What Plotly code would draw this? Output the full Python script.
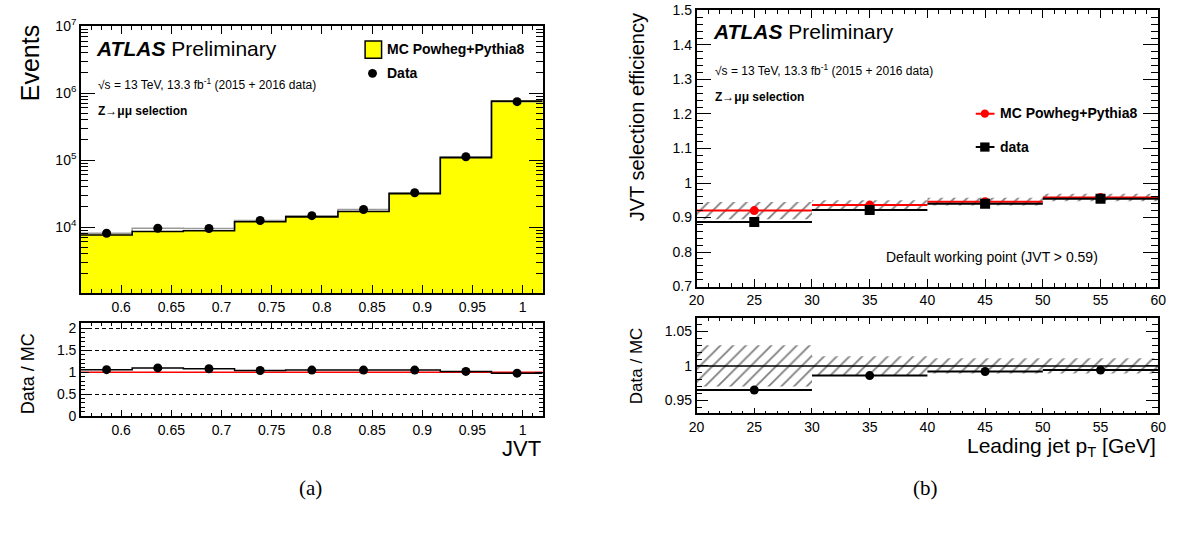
import plotly.graph_objects as go

# ---------------- data ----------------
# (a) JVT distribution
jvt_edges = [0.56, 0.611, 0.662, 0.713, 0.764, 0.816, 0.867, 0.918, 0.969, 1.02]
mc_events = [7600, 8600, 8800, 12000, 14200, 17100, 31500, 108700, 760000]
data_events = [8060, 9600, 9500, 12500, 14800, 18300, 32500, 112000, 745000]
ratio_jvt = [1.06, 1.10, 1.08, 1.04, 1.05, 1.05, 1.05, 1.02, 0.98]
jvt_tick_labels = ["0.6", "0.65", "0.7", "0.75", "0.8", "0.85", "0.9", "0.95", "1"]

# (b) JVT efficiency vs leading jet pT
pt_centers = [25, 35, 45, 55]
pt_halfwidth = [5, 5, 5, 5]
mc_eff = [0.920, 0.936, 0.946, 0.958]
mc_eff_unc = [0.025, 0.014, 0.011, 0.011]
data_eff = [0.887, 0.922, 0.940, 0.954]
ratio_eff = [0.965, 0.986, 0.992, 0.994]
ratio_eff_unc = [0.030, 0.014, 0.011, 0.011]

W, H = 1183, 543
FONT = "Liberation Sans"


def px(x):
    return x / W


def py(y):
    return 1 - y / H


jvt_centers = [(a + b) / 2 for a, b in zip(jvt_edges[:-1], jvt_edges[1:])]
jvt_widths = [b - a for a, b in zip(jvt_edges[:-1], jvt_edges[1:])]

HATCH = dict(shape="/", fgcolor="black", bgcolor="rgba(0,0,0,0)", size=9, solidity=0.2)

fig = go.Figure()

# ---- (a) top ----
fig.add_trace(go.Bar(x=jvt_centers, y=mc_events, width=jvt_widths,
                     marker=dict(color="#ffff00", line=dict(width=1, color="#ffff00")),
                     xaxis="x", yaxis="y", showlegend=False))
fig.add_trace(go.Scatter(x=jvt_edges, y=data_events + [data_events[-1]], mode="lines",
                         line=dict(color="#9a9a9a", width=1.5, shape="hv"),
                         xaxis="x", yaxis="y", showlegend=False))
fig.add_trace(go.Scatter(x=jvt_edges, y=mc_events + [mc_events[-1]], mode="lines",
                         line=dict(color="black", width=1.6, shape="hv"),
                         xaxis="x", yaxis="y", showlegend=False))
fig.add_trace(go.Scatter(x=jvt_centers, y=data_events, mode="markers",
                         marker=dict(color="black", size=9, symbol="circle"),
                         xaxis="x", yaxis="y", showlegend=False))

# ---- (a) ratio ----
fig.add_trace(go.Scatter(x=[jvt_edges[0], jvt_edges[-1]], y=[1, 1], mode="lines",
                         line=dict(color="red", width=1.6),
                         xaxis="x2", yaxis="y2", showlegend=False))
fig.add_trace(go.Scatter(x=jvt_edges, y=ratio_jvt + [ratio_jvt[-1]], mode="lines",
                         line=dict(color="black", width=1.5, shape="hv"),
                         xaxis="x2", yaxis="y2", showlegend=False))
fig.add_trace(go.Scatter(x=jvt_centers, y=ratio_jvt, mode="markers",
                         marker=dict(color="black", size=9),
                         xaxis="x2", yaxis="y2", showlegend=False))

# ---- (b) top ----
fig.add_trace(go.Bar(x=pt_centers, y=[2 * u for u in mc_eff_unc],
                     base=[m - u for m, u in zip(mc_eff, mc_eff_unc)],
                     width=[2 * w for w in pt_halfwidth],
                     marker=dict(color="rgba(0,0,0,0)", line=dict(width=0), pattern=HATCH),
                     xaxis="x3", yaxis="y3", showlegend=False))
fig.add_trace(go.Scatter(x=pt_centers, y=mc_eff, mode="markers",
                         marker=dict(color="red", size=9),
                         error_x=dict(type="data", array=pt_halfwidth, color="red", thickness=2, width=0),
                         xaxis="x3", yaxis="y3", showlegend=False))
fig.add_trace(go.Scatter(x=pt_centers, y=data_eff, mode="markers",
                         marker=dict(color="black", size=10, symbol="square"),
                         error_x=dict(type="data", array=pt_halfwidth, color="black", thickness=2, width=0),
                         xaxis="x3", yaxis="y3", showlegend=False))

# ---- (b) ratio ----
fig.add_trace(go.Bar(x=pt_centers, y=[2 * u for u in ratio_eff_unc],
                     base=[1 - u for u in ratio_eff_unc],
                     width=[2 * w for w in pt_halfwidth],
                     marker=dict(color="rgba(0,0,0,0)", line=dict(width=0), pattern=HATCH),
                     xaxis="x4", yaxis="y4", showlegend=False))
fig.add_trace(go.Scatter(x=[20, 60], y=[1, 1], mode="lines",
                         line=dict(color="black", width=1.6),
                         xaxis="x4", yaxis="y4", showlegend=False))
fig.add_trace(go.Scatter(x=pt_centers, y=ratio_eff, mode="markers",
                         marker=dict(color="black", size=9),
                         error_x=dict(type="data", array=pt_halfwidth, color="black", thickness=2, width=0),
                         xaxis="x4", yaxis="y4", showlegend=False))


def axis(domain, anchor, rng, ticklen, minorlen, **kw):
    d = dict(domain=domain, anchor=anchor, range=rng, showline=True, linecolor="black",
             linewidth=1.6, mirror="allticks", ticks="inside", ticklen=ticklen, tickwidth=1,
             tickcolor="black", showgrid=False, zeroline=False,
             tickfont=dict(family=FONT, size=14, color="black"))
    minor = dict(ticks="inside", ticklen=minorlen, tickwidth=1, tickcolor="black", showgrid=False)
    minor.update(kw.pop("minor", {}))
    d["minor"] = minor
    d.update(kw)
    return d


xa_dom = [px(74), px(542)]
xb_dom = [px(698), px(1166)]

log_minor = [m * 10 ** e for e in range(3, 7) for m in range(2, 10)]

fig.update_layout(
    width=W, height=H, margin=dict(l=0, r=0, t=0, b=0),
    paper_bgcolor="white", plot_bgcolor="white", barmode="overlay",
    xaxis=axis(xa_dom, "y", [0.56, 1.02], 8, 4, tickmode="array",
               tickvals=[0.6, 0.65, 0.7, 0.75, 0.8, 0.85, 0.9, 0.95, 1.0], ticktext=jvt_tick_labels,
               minor=dict(tickmode="linear", tick0=0.56, dtick=0.01)),
    yaxis=axis([py(292.7), py(16.7)], "x", [3.015, 7], 14, 7, type="log", tickmode="array",
               tickvals=[1e4, 1e5, 1e6, 1e7],
               ticktext=["10<sup>4</sup>", "10<sup>5</sup>", "10<sup>6</sup>", "10<sup>7</sup>"],
               minor=dict(tickmode="array", tickvals=log_minor)),
    xaxis2=axis(xa_dom, "y2", [0.56, 1.02], 6, 3, tickmode="array",
                tickvals=[0.6, 0.65, 0.7, 0.75, 0.8, 0.85, 0.9, 0.95, 1.0], ticktext=jvt_tick_labels,
                minor=dict(tickmode="linear", tick0=0.56, dtick=0.01)),
    yaxis2=axis([py(420), py(324)], "x2", [0, 2.12], 8, 4, tickmode="linear", tick0=0, dtick=0.5,
                showgrid=True, gridcolor="black", griddash="4px,3px", gridwidth=1,
                minor=dict(tickmode="linear", tick0=0, dtick=0.1)),
    xaxis3=axis(xb_dom, "y3", [20, 60], 8, 4, tickmode="linear", tick0=20, dtick=5,
                minor=dict(tickmode="linear", tick0=20, dtick=1)),
    yaxis3=axis([py(286), py(0.5)], "x3", [0.7, 1.5], 15, 7, tickmode="linear", tick0=0.7, dtick=0.1,
                minor=dict(tickmode="linear", tick0=0.7, dtick=0.02)),
    xaxis4=axis(xb_dom, "y4", [20, 60], 6, 3, tickmode="linear", tick0=20, dtick=5,
                minor=dict(tickmode="linear", tick0=20, dtick=1)),
    yaxis4=axis([py(417.3), py(319)], "x4", [0.931, 1.069], 12, 6, tickmode="array",
                tickvals=[0.95, 1.0, 1.05], ticktext=["0.95", "1", "1.05"],
                minor=dict(tickmode="linear", tick0=0.93, dtick=0.01)),
)

ann = []


def text(x, y, s, size, xanchor="left", yanchor="middle", angle=0, family=FONT):
    ann.append(dict(x=px(x), y=py(y), xref="paper", yref="paper", text=s, showarrow=False,
                    xanchor=xanchor, yanchor=yanchor, textangle=angle,
                    font=dict(family=family, size=size, color="black")))


# (a) texts
text(87, 40, "<b><i>ATLAS</i></b> Preliminary", 21)
text(89, 77, "√s = 13 TeV, 13.3 fb<sup>-1</sup> (2015 + 2016 data)", 12)
text(89, 104, "<b>Z→μμ selection</b>", 12)
text(382, 40, "<b>MC Powheg+Pythia8</b>", 14)
text(382, 65, "<b>Data</b>", 14)
text(22, 14, "Events", 25, xanchor="center", yanchor="top", angle=-90)
text(20, 376, "Data / MC", 18, xanchor="center", angle=-90)
text(542, 439, "JVT", 22, xanchor="right", yanchor="top")
text(307, 494, "(a)", 21, xanchor="center", family="Liberation Serif")

# (b) texts
text(713, 22, "<b><i>ATLAS</i></b> Preliminary", 21)
text(715, 62, "√s = 13 TeV, 13.3 fb<sup>-1</sup> (2015 + 2016 data)", 12)
text(715, 90, "<b>Z→μμ selection</b>", 12)
text(1004, 107, "<b>MC Powheg+Pythia8</b>", 14)
text(1004, 142, "<b>data</b>", 14)
text(888, 255, "Default working point (JVT > 0.59)", 14)
text(638, 1, "JVT selection efficiency", 20, xanchor="center", yanchor="top", angle=-90)
text(637, 368, "Data / MC", 17, xanchor="center", angle=-90)
text(1166, 436, "Leading jet p<sub>T</sub> [GeV]", 21, xanchor="right", yanchor="top")
text(930, 494, "(b)", 21, xanchor="center", family="Liberation Serif")

fig.update_layout(annotations=ann)

shapes = [
    # (a) legend
    dict(type="rect", xref="paper", yref="paper", x0=px(362), x1=px(378.7), y0=py(50), y1=py(32),
         fillcolor="#ffff00", line=dict(color="black", width=1.5)),
    dict(type="circle", xref="paper", yref="paper", x0=px(365), x1=px(374), y0=py(70), y1=py(61),
         fillcolor="black", line=dict(color="black", width=0)),
    # (b) legend
    dict(type="line", xref="paper", yref="paper", x0=px(981), x1=px(1000), y0=py(107.3), y1=py(107.3),
         line=dict(color="red", width=2)),
    dict(type="circle", xref="paper", yref="paper", x0=px(986), x1=px(994.5), y0=py(111.5), y1=py(103),
         fillcolor="red", line=dict(color="red", width=0)),
    dict(type="line", xref="paper", yref="paper", x0=px(981), x1=px(1000), y0=py(141.7), y1=py(141.7),
         line=dict(color="black", width=2)),
    dict(type="rect", xref="paper", yref="paper", x0=px(985.5), x1=px(995), y0=py(146.5), y1=py(137),
         fillcolor="black", line=dict(color="black", width=0)),
]
fig.update_layout(shapes=shapes)

fig.write_html("out.html")
